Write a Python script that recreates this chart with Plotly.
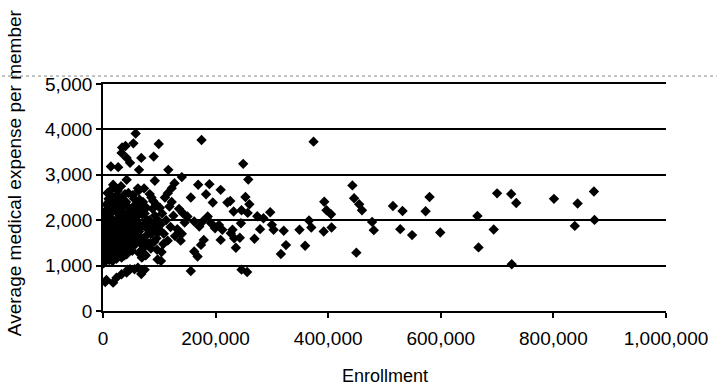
import plotly.graph_objects as go

# Enrollment (thousands of members) and average medical expense per member
enrollment_k = [
    515, 532, 528, 549, 580, 573, 599, 665, 667, 700, 725, 734, 694, 726, 801, 843, 872, 838, 873,
    374, 249, 258, 443, 226, 253, 260, 232, 246, 257, 274, 285, 297, 245, 230, 243, 236, 269, 279,
    300, 303, 321, 325, 316, 349, 359, 366, 370, 393, 397, 405, 392, 406, 446, 455, 460, 450, 478,
    481, 246, 256,
    175, 58, 54, 40, 34, 33, 42, 48, 68, 90, 99, 14, 27, 64, 116, 42, 18, 92, 62, 140, 127, 122,
    115, 169, 189, 209, 156, 183, 195, 221, 142, 150, 162, 171, 177, 186, 192, 199, 206, 212, 227,
    233, 209, 179, 174, 162, 168, 156, 103, 74, 97, 68, 44, 74,
    6, 18, 24, 33, 42, 48, 56, 62, 4,
    2, 3, 4, 5, 6, 3, 7, 8, 5, 9, 2, 6, 8, 4, 10, 1, 2,
    12, 14, 11, 15, 13, 16, 18, 17, 19, 11, 14, 20, 12, 18, 16,
    22, 24, 21, 26, 28, 23, 25, 27, 29, 22, 30, 24, 26, 28,
    32, 34, 31, 36, 38, 33, 35, 37, 39, 32, 40, 35,
    42, 44, 41, 46, 48, 43, 45, 47, 49, 42, 50,
    52, 54, 56, 58, 51, 55, 57, 59, 53, 60,
    62, 64, 66, 68, 61, 65, 67, 69, 63,
    72, 74, 76, 78, 71, 75, 79, 73,
    82, 85, 88, 90, 84, 92, 95, 98, 86, 94, 99, 96,
    102, 105, 108, 112, 115, 118, 104, 110, 120, 125, 128, 122,
    132, 135, 138, 145, 140,
    1, 3, 5, 7, 9, 2, 4, 6, 8, 10, 1, 3, 5, 7, 9,
    11, 13, 15, 17, 19, 12, 14, 16, 18, 20, 13, 17,
    21, 23, 25, 27, 29, 22, 24, 26, 28, 30, 25,
    31, 34, 37, 40, 33, 36, 39, 32, 38,
    43, 46, 49, 52, 55, 44, 47, 50, 53,
    58, 61, 64, 67, 70, 57, 63, 69,
    73, 77, 81, 85, 89, 93, 76, 83, 91, 97, 101, 107,
]
expense = [
    2314, 2204, 1803, 1672, 2511, 2197, 1730, 2095, 1401, 2591, 2577, 2380, 1796, 1030, 2470, 2368, 2632, 1875, 2007,
    3730, 3241, 2898, 2766, 2423, 2511, 2350, 2190, 2219, 2161, 2088, 2044, 2175, 1934, 1788, 1613, 1394, 1591, 1803,
    1898, 1788, 1766, 1452, 1255, 1788, 1437, 1993, 1839, 2408, 2219, 2131, 1752, 1839, 2482, 2350, 2219, 1285, 1963,
    1781, 911, 859,
    3765, 3910, 3693, 3635, 3600, 3482, 3372, 3263, 3372, 3401, 3679, 3182, 3168, 3109, 3109, 2890, 2781, 2869, 2701, 2949, 2816, 2706,
    2596, 2780, 2794, 2669, 2500, 2570, 2390, 2390, 2154, 2081, 1971, 1860, 1971, 2081, 1934, 1824, 1897, 1787, 1713,
    1603, 1566, 1566, 1456, 1309, 1199, 882, 1103, 1250, 1133, 815, 911, 911,
    684, 625, 735, 809, 846, 919, 919, 956, 640,
    1500, 1800, 2100, 1650, 2350, 1250, 1950, 2600, 1400, 1750, 2000, 1150, 2250, 1600, 1900, 1050, 1300,
    1700, 2050, 2450, 1350, 1850, 2200, 1550, 2700, 1950, 1450, 2300, 1650, 2150, 2000, 1250,
    1900, 2500, 1600, 2150, 1750, 1350, 2000, 2350, 1500, 2250, 1850, 1150, 2650, 2050,
    1700, 2200, 2000, 1450, 1900, 2450, 1600, 2100, 1300, 2750, 1800, 2300,
    2000, 1700, 2400, 1550, 2150, 1850, 2600, 1350, 1950, 1250, 2250,
    1800, 2050, 1600, 2350, 1450, 1950, 2200, 1700, 2550, 1900,
    2100, 1750, 1500, 2300, 1950, 2450, 1850, 1350, 2650,
    1900, 2150, 1650, 2000, 2400, 1450, 1800, 2700,
    2000, 1700, 2250, 1900, 1500, 2100, 1600, 2000, 2500, 2350, 1800, 1350,
    1900, 2150, 1700, 2000, 1550, 2300, 1300, 2500, 1850, 2100, 1650, 2400,
    1800, 2250, 1550, 1950, 1700,
    1375, 1575, 1825, 2075, 2325, 1125, 1725, 2225, 1475, 2475, 1950, 2150, 1200, 1550, 1850,
    1125, 1525, 1775, 2375, 1625, 1975, 1275, 2525, 1825, 2425, 2550, 1100,
    1425, 1725, 2225, 1275, 2425, 1675, 1475, 1975, 2375, 1625, 2550,
    1925, 1525, 2375, 2075, 1175, 1775, 2575, 1375, 1225,
    1475, 2275, 1775, 1325, 2475, 2125, 1650, 1525, 2025,
    1475, 2225, 1275, 1625, 2125, 2075, 1575, 1175,
    1575, 2275, 1825, 1375, 2425, 1775, 1225, 2575, 1525, 1725, 2275, 1475,
]
enrollment = [v * 1000 for v in enrollment_k]

x_ticks = [0, 200000, 400000, 600000, 800000, 1000000]
x_tick_text = ["0", "200,000", "400,000", "600,000", "800,000", "1,000,000"]
y_ticks = [0, 1000, 2000, 3000, 4000, 5000]
y_tick_text = ["0", "1,000", "2,000", "3,000", "4,000", "5,000"]
x_title = "Enrollment"
y_title = "Average medical expense per member"

FONT = "Liberation Sans, Arial, sans-serif"

fig = go.Figure(
    go.Scatter(
        x=enrollment, y=expense, mode="markers",
        marker=dict(symbol="diamond", size=8, color="black", line=dict(width=0)),
        showlegend=False,
    )
)

fig.update_layout(
    width=720, height=386,
    margin=dict(l=103, r=50, t=84, b=75),
    paper_bgcolor="white", plot_bgcolor="white",
    font=dict(family=FONT, size=19, color="black"),
)
fig.update_xaxes(
    range=[0, 1000000], tickvals=x_ticks, ticktext=x_tick_text,
    showgrid=False, zeroline=False, showline=True, linecolor="black", linewidth=1.5,
    mirror=True,
    ticks="outside", ticklen=5, tickcolor="black", tickwidth=1.5,
    ticklabelstandoff=4,
    tickfont=dict(size=19),
)
fig.update_yaxes(
    range=[0, 5000], tickvals=y_ticks, ticktext=y_tick_text,
    showgrid=True, gridcolor="black", gridwidth=1.5,
    zeroline=False, showline=True, linecolor="black", linewidth=1.5,
    ticks="outside", ticklen=5, tickcolor="black", tickwidth=1.5,
    tickfont=dict(size=19),
)
# axis titles placed as in the reference
fig.add_annotation(text=x_title, xref="paper", yref="paper", x=0.5, y=-0.286,
                   showarrow=False, font=dict(size=18), xanchor="center", yanchor="middle")
fig.add_annotation(text=y_title, xref="paper", yref="paper", x=-0.157, y=0.61,
                   showarrow=False, textangle=-90, font=dict(size=19),
                   xanchor="center", yanchor="middle")
# faint dotted scan line above the plot
fig.add_shape(type="line", xref="paper", yref="paper",
              x0=-0.19, x1=1.09, y0=1.035, y1=1.035,
              line=dict(color="#888888", width=1, dash="dot"))

fig.write_html("out.html")
